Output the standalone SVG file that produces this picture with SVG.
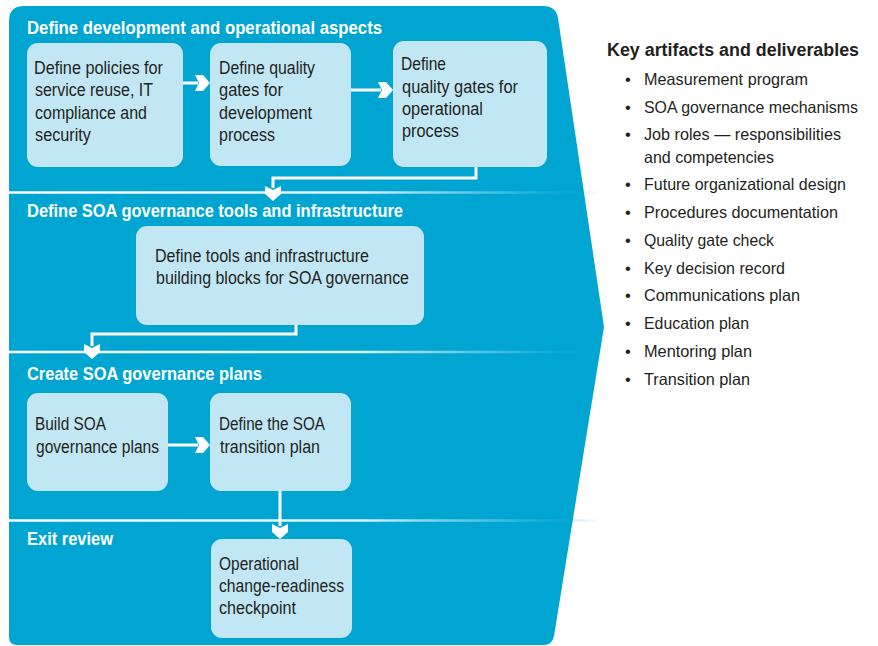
<svg xmlns="http://www.w3.org/2000/svg" width="878" height="646" viewBox="0 0 878 646">
<style>
.bg{fill:#01a5d2}
.box{fill:#c1e7f4}
.hd{font-family:"Liberation Sans",Arial,sans-serif;font-weight:bold;font-size:19px;fill:#ffffff}
.t{font-family:"Liberation Sans",Arial,sans-serif;font-size:17.5px;fill:#231f20}
.li{font-family:"Liberation Sans",Arial,sans-serif;font-size:16.5px;fill:#231f20}
.kh{font-family:"Liberation Sans",Arial,sans-serif;font-weight:bold;font-size:18px;fill:#231f20}
.sep{stroke:url(#fade);stroke-width:2.5;fill:none}
.c{stroke:#ffffff;stroke-width:3;fill:none}
.ah{fill:#ffffff}
</style>
<defs>
<linearGradient id="fade" gradientUnits="userSpaceOnUse" x1="9" y1="0" x2="600" y2="0">
<stop offset="0" stop-color="#ffffff"/>
<stop offset="0.6" stop-color="#ffffff" stop-opacity="0.85"/>
<stop offset="0.85" stop-color="#5cc8e8" stop-opacity="0.6"/>
<stop offset="1" stop-color="#01a5d2" stop-opacity="0"/>
</linearGradient>
</defs>

<g id="background">
<path class="bg" d="M24,6 L543,6 Q556,6 558,18 L604,327 L554,636 Q552,645 544,645 L17,645 Q9,645 9,637 L9,21 Q9,6 24,6 Z"/>
<line class="sep" x1="9" y1="192.5" x2="600" y2="192.5"/>
<line class="sep" x1="9" y1="352" x2="600" y2="352"/>
<line class="sep" x1="9" y1="520.5" x2="600" y2="520.5"/>
</g>

<g id="headings">
<text class="hd" x="27" y="34" textLength="355" lengthAdjust="spacingAndGlyphs">Define development and operational aspects</text>
<text class="hd" x="27" y="217" textLength="376" lengthAdjust="spacingAndGlyphs">Define SOA governance tools and infrastructure</text>
<text class="hd" x="27" y="380" textLength="235" lengthAdjust="spacingAndGlyphs">Create SOA governance plans</text>
<text class="hd" x="27" y="545" textLength="86" lengthAdjust="spacingAndGlyphs">Exit review</text>
</g>

<g id="n1">
<rect class="box" x="27" y="43" width="156" height="124" rx="11"/>
<text class="t" x="34" y="74" textLength="129" lengthAdjust="spacingAndGlyphs">Define policies for</text>
<text class="t" x="35" y="96" textLength="118" lengthAdjust="spacingAndGlyphs">service reuse, IT</text>
<text class="t" x="35" y="119" textLength="112" lengthAdjust="spacingAndGlyphs">compliance and</text>
<text class="t" x="35" y="141" textLength="56" lengthAdjust="spacingAndGlyphs">security</text>
</g>
<g id="n2">
<rect class="box" x="210" y="43" width="141" height="123" rx="11"/>
<text class="t" x="219" y="74" textLength="96" lengthAdjust="spacingAndGlyphs">Define quality</text>
<text class="t" x="219" y="96" textLength="64" lengthAdjust="spacingAndGlyphs">gates for</text>
<text class="t" x="219" y="119" textLength="93" lengthAdjust="spacingAndGlyphs">development</text>
<text class="t" x="219" y="141" textLength="56" lengthAdjust="spacingAndGlyphs">process</text>
</g>
<g id="n3">
<rect class="box" x="393" y="41" width="154" height="126" rx="11"/>
<text class="t" x="401" y="70" textLength="45" lengthAdjust="spacingAndGlyphs">Define</text>
<text class="t" x="402" y="93" textLength="116" lengthAdjust="spacingAndGlyphs">quality gates for</text>
<text class="t" x="402" y="115" textLength="81" lengthAdjust="spacingAndGlyphs">operational</text>
<text class="t" x="402" y="137" textLength="57" lengthAdjust="spacingAndGlyphs">process</text>
</g>
<g id="n4">
<rect class="box" x="136" y="226" width="288" height="99" rx="11"/>
<text class="t" x="155" y="262" textLength="214" lengthAdjust="spacingAndGlyphs">Define tools and infrastructure</text>
<text class="t" x="156" y="284" textLength="253" lengthAdjust="spacingAndGlyphs">building blocks for SOA governance</text>
</g>
<g id="n5">
<rect class="box" x="27" y="393" width="141" height="98" rx="11"/>
<text class="t" x="35" y="430" textLength="71" lengthAdjust="spacingAndGlyphs">Build SOA</text>
<text class="t" x="36" y="453" textLength="123" lengthAdjust="spacingAndGlyphs">governance plans</text>
</g>
<g id="n6">
<rect class="box" x="210" y="393" width="141" height="98" rx="11"/>
<text class="t" x="219" y="430" textLength="106" lengthAdjust="spacingAndGlyphs">Define the SOA</text>
<text class="t" x="220" y="453" textLength="100" lengthAdjust="spacingAndGlyphs">transition plan</text>
</g>
<g id="n7">
<rect class="box" x="211" y="539" width="141" height="99" rx="11"/>
<text class="t" x="219" y="570" textLength="80" lengthAdjust="spacingAndGlyphs">Operational</text>
<text class="t" x="219" y="592" textLength="125" lengthAdjust="spacingAndGlyphs">change-readiness</text>
<text class="t" x="219" y="614" textLength="77" lengthAdjust="spacingAndGlyphs">checkpoint</text>
</g>

<g id="connectors">
<path class="c" d="M183,83 H198"/>
<path class="ah" d="M195,75 L203,75 L210,83 L203,91 L195,91 L199,83 Z"/>
<path class="c" d="M351,90 H381"/>
<path class="ah" d="M378,82 L386,82 L393,90 L386,98 L378,98 L382,90 Z"/>
<path class="c" d="M476,167 V178 H273 V188"/>
<path class="ah" d="M265,186 L265,194 L273,201 L281,194 L281,186 L273,190 Z"/>
<path class="c" d="M296,325 V334 H92 V346"/>
<path class="ah" d="M84,344 L84,352 L92,359 L100,352 L100,344 L92,348 Z"/>
<path class="c" d="M168,445 H198"/>
<path class="ah" d="M195,437 L203,437 L210,445 L203,453 L195,453 L199,445 Z"/>
<path class="c" d="M280,491 V526"/>
<path class="ah" d="M272,524 L272,532 L280,539 L288,532 L288,524 L280,528 Z"/>
</g>

<g id="artifacts">
<text class="kh" x="607" y="56" textLength="252" lengthAdjust="spacingAndGlyphs">Key artifacts and deliverables</text>
<g class="li">
<text x="625" y="85">•</text><text x="644" y="85" textLength="164" lengthAdjust="spacingAndGlyphs">Measurement program</text>
<text x="625" y="113">•</text><text x="644" y="113" textLength="214" lengthAdjust="spacingAndGlyphs">SOA governance mechanisms</text>
<text x="625" y="140">•</text><text x="644" y="140" textLength="197" lengthAdjust="spacingAndGlyphs">Job roles — responsibilities</text>
<text x="644" y="163" textLength="130" lengthAdjust="spacingAndGlyphs">and competencies</text>
<text x="625" y="190">•</text><text x="644" y="190" textLength="202" lengthAdjust="spacingAndGlyphs">Future organizational design</text>
<text x="625" y="218">•</text><text x="644" y="218" textLength="194" lengthAdjust="spacingAndGlyphs">Procedures documentation</text>
<text x="625" y="246">•</text><text x="644" y="246" textLength="130" lengthAdjust="spacingAndGlyphs">Quality gate check</text>
<text x="625" y="274">•</text><text x="644" y="274" textLength="141" lengthAdjust="spacingAndGlyphs">Key decision record</text>
<text x="625" y="301">•</text><text x="644" y="301" textLength="156" lengthAdjust="spacingAndGlyphs">Communications plan</text>
<text x="625" y="329">•</text><text x="644" y="329" textLength="105" lengthAdjust="spacingAndGlyphs">Education plan</text>
<text x="625" y="357">•</text><text x="644" y="357" textLength="108" lengthAdjust="spacingAndGlyphs">Mentoring plan</text>
<text x="625" y="385">•</text><text x="644" y="385" textLength="106" lengthAdjust="spacingAndGlyphs">Transition plan</text>
</g>
</g>
</svg>
